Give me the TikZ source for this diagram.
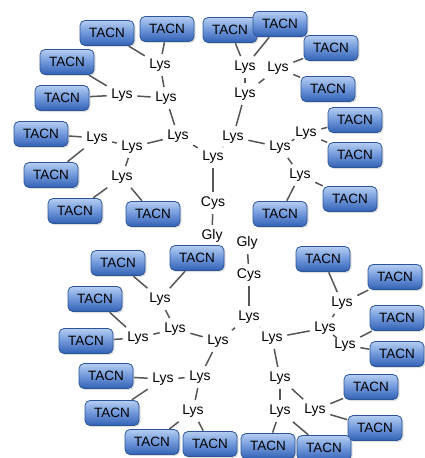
\documentclass[tikz,border=0pt]{standalone}
\usepackage{fontspec}
\setmainfont{Liberation Sans}
\usetikzlibrary{shadows}
\definecolor{boxtop}{HTML}{B4CDF2}
\definecolor{boxmid}{HTML}{6F97DA}
\definecolor{boxbot}{HTML}{3261B4}
\definecolor{boxedge}{HTML}{2B5597}
\definecolor{linkc}{HTML}{555555}
\begin{document}
\begin{tikzpicture}[x=1pt,y=-1pt,
  tacn/.style={rectangle, rounded corners=5pt, minimum width=54pt, minimum height=25pt,
    inner sep=0pt, draw=boxedge, line width=0.8pt, top color=boxtop, bottom color=boxbot,
    middle color=boxmid, font=\fontsize{13.5}{14}\selectfont,
    drop shadow={opacity=0.25, shadow xshift=1.5pt, shadow yshift=-1.5pt}},
  res/.style={inner sep=4pt, font=\fontsize{14}{15}\selectfont},
  link/.style={draw=linkc, line width=1.5pt, shorten <=0.5pt, shorten >=0.5pt}]
\useasboundingbox (0,0) rectangle (425,458);
\clip (0,0) rectangle (425,458);
% TACN boxes
\node[tacn] (T1) at (107,33) {TACN};
\node[tacn] (T2) at (167,29) {TACN};
\node[tacn] (T3) at (67,62) {TACN};
\node[tacn] (T4) at (62,98) {TACN};
\node[tacn] (T5) at (41,134) {TACN};
\node[tacn] (T6) at (51,175) {TACN};
\node[tacn] (T7) at (75,211) {TACN};
\node[tacn] (T8) at (153,214) {TACN};
\node[tacn] (T9) at (230,30) {TACN};
\node[tacn] (T10) at (280,24) {TACN};
\node[tacn] (T11) at (331,48) {TACN};
\node[tacn] (T12) at (328,89) {TACN};
\node[tacn] (T13) at (355,120) {TACN};
\node[tacn] (T14) at (355,155) {TACN};
\node[tacn] (T15) at (350,199) {TACN};
\node[tacn] (T16) at (280,214) {TACN};
\node[tacn] (T17) at (118,263) {TACN};
\node[tacn] (T18) at (197,258) {TACN};
\node[tacn] (T19) at (95,299) {TACN};
\node[tacn] (T20) at (86,341) {TACN};
\node[tacn] (T21) at (106,376) {TACN};
\node[tacn] (T22) at (112,413) {TACN};
\node[tacn] (T23) at (152,442) {TACN};
\node[tacn] (T24) at (210,444) {TACN};
\node[tacn] (T25) at (323,259) {TACN};
\node[tacn] (T26) at (395,277) {TACN};
\node[tacn] (T27) at (397,318) {TACN};
\node[tacn] (T28) at (397,354) {TACN};
\node[tacn] (T29) at (371,387) {TACN};
\node[tacn] (T30) at (375,428) {TACN};
\node[tacn] (T31) at (324,448) {TACN};
\node[tacn] (T32) at (268,446) {TACN};
% residues, top half
\node[res] (La) at (160,65) {Lys};
\node[res] (Lb) at (122,95) {Lys};
\node[res] (Lc) at (166,98) {Lys};
\node[res] (Ld) at (178,136) {Lys};
\node[res] (Le) at (97,138) {Lys};
\node[res] (Lf) at (132,147) {Lys};
\node[res] (Lg) at (122,177) {Lys};
\node[res] (Lh) at (213,157) {Lys};
\node[res] (Li) at (245,67) {Lys};
\node[res] (Lj) at (278,68) {Lys};
\node[res] (Lk) at (245,94) {Lys};
\node[res] (Ll) at (233,137) {Lys};
\node[res] (Lm) at (280,147) {Lys};
\node[res] (Ln) at (306,133) {Lys};
\node[res] (Lo) at (300,175) {Lys};
\node[res] (C1) at (213,203) {Cys};
\node[res] (G1) at (212,236) {Gly};
% residues, bottom half
\node[res] (G2) at (247,243) {Gly};
\node[res] (C2) at (249,275) {Cys};
\node[res] (Lw) at (249,317) {Lys};
\node[res] (Lp) at (160,299) {Lys};
\node[res] (Lq) at (175,329) {Lys};
\node[res] (Lr) at (138,338) {Lys};
\node[res] (Ls) at (218,341) {Lys};
\node[res] (Lt) at (163,379) {Lys};
\node[res] (Lu) at (200,377) {Lys};
\node[res] (Lv) at (193,411) {Lys};
\node[res] (Lx) at (272,338) {Lys};
\node[res] (Ly) at (325,328) {Lys};
\node[res] (Lz) at (342,303) {Lys};
\node[res] (Laa) at (345,345) {Lys};
\node[res] (Lbb) at (280,378) {Lys};
\node[res] (Lcc) at (280,411) {Lys};
\node[res] (Ldd) at (315,410) {Lys};
% links top
\draw[link] (G1) -- (C1);
\draw[link] (C1) -- (Lh);
\draw[link] (Lh) -- (Ld);
\draw[link] (Lh) -- (Ll);
\draw[link] (Ld) -- (Lc);
\draw[link] (Ld) -- (Lf);
\draw[link] (Lc) -- (La);
\draw[link] (Lc) -- (Lb);
\draw[link] (La) -- (T1);
\draw[link] (La) -- (T2);
\draw[link] (Lb) -- (T3);
\draw[link] (Lb) -- (T4);
\draw[link] (Lf) -- (Le);
\draw[link] (Lf) -- (Lg);
\draw[link] (Le) -- (T5);
\draw[link] (Le) -- (T6);
\draw[link] (Lg) -- (T7);
\draw[link] (Lg) -- (T8);
\draw[link] (Ll) -- (Lk);
\draw[link] (Ll) -- (Lm);
\draw[link] (Lk) -- (Li);
\draw[link] (Lk) -- (Lj);
\draw[link] (Li) -- (T9);
\draw[link] (Li) -- (T10);
\draw[link] (Lj) -- (T11);
\draw[link] (Lj) -- (T12);
\draw[link] (Lm) -- (Ln);
\draw[link] (Lm) -- (Lo);
\draw[link] (Ln) -- (T13);
\draw[link] (Ln) -- (T14);
\draw[link] (Lo) -- (T15);
\draw[link] (Lo) -- (T16);
% links bottom
\draw[link] (G2) -- (C2);
\draw[link] (C2) -- (Lw);
\draw[link] (Lw) -- (Ls);
\draw[link] (Lw) -- (Lx);
\draw[link] (Ls) -- (Lq);
\draw[link] (Ls) -- (Lu);
\draw[link] (Lq) -- (Lp);
\draw[link] (Lq) -- (Lr);
\draw[link] (Lp) -- (T17);
\draw[link] (Lp) -- (T18);
\draw[link] (Lr) -- (T19);
\draw[link] (Lr) -- (T20);
\draw[link] (Lu) -- (Lt);
\draw[link] (Lu) -- (Lv);
\draw[link] (Lt) -- (T21);
\draw[link] (Lt) -- (T22);
\draw[link] (Lv) -- (T23);
\draw[link] (Lv) -- (T24);
\draw[link] (Lx) -- (Ly);
\draw[link] (Lx) -- (Lbb);
\draw[link] (Ly) -- (Lz);
\draw[link] (Ly) -- (Laa);
\draw[link] (Lz) -- (T25);
\draw[link] (Lz) -- (T26);
\draw[link] (Laa) -- (T27);
\draw[link] (Laa) -- (T28);
\draw[link] (Lbb) -- (Lcc);
\draw[link] (Lbb) -- (Ldd);
\draw[link] (Lcc) -- (T32);
\draw[link] (Lcc) -- (T31);
\draw[link] (Ldd) -- (T29);
\draw[link] (Ldd) -- (T30);
\end{tikzpicture}
\end{document}
